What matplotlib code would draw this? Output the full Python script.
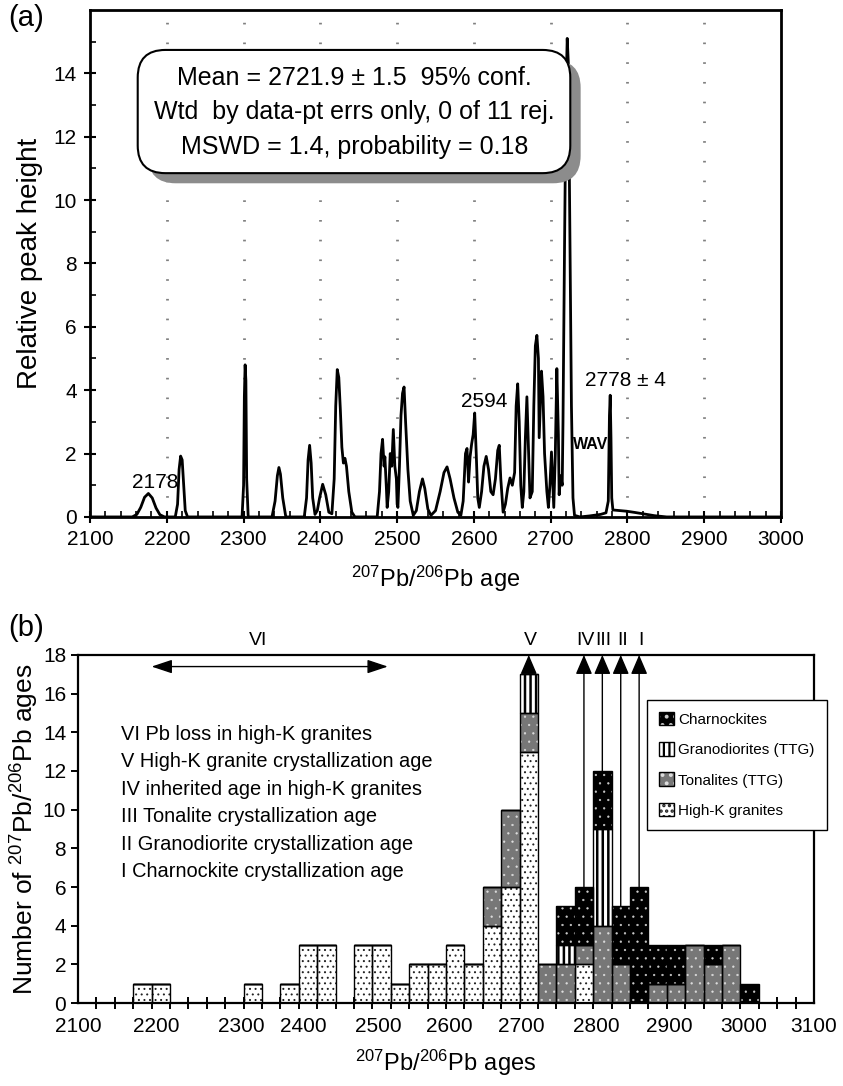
import matplotlib
matplotlib.use('Agg')
import matplotlib.pyplot as plt
from matplotlib.patches import FancyBboxPatch, Patch

plt.rcParams['font.family'] = ['Liberation Sans', 'DejaVu Sans']
plt.rcParams['hatch.linewidth'] = 1.6
NARROW = ['Liberation Sans Narrow', 'Liberation Sans', 'DejaVu Sans']

# ------------------------------------------------------------------ data (a)
# relative probability curve, traced vertex by vertex
age_a = [2100, 2155, 2161, 2166, 2171, 2176, 2181, 2186, 2191, 2197,
         2211, 2214, 2216, 2218, 2220, 2222, 2224, 2227,
         2298, 2300, 2301, 2302, 2303, 2304, 2306,
         2337, 2341, 2344, 2346, 2348, 2351, 2355,
         2379, 2382, 2384, 2386, 2388, 2390, 2393, 2396, 2399, 2403, 2407, 2411,
         2415, 2418, 2420, 2422, 2424, 2426, 2428, 2430, 2432, 2434, 2437, 2441, 2445,
         2474, 2477, 2479, 2481, 2483, 2484, 2486, 2487, 2489, 2491, 2493, 2495,
         2497, 2499, 2500, 2501, 2503, 2505, 2507, 2509, 2511, 2514, 2517, 2521,
         2525, 2529, 2533, 2536, 2540, 2544,
         2550, 2556, 2561, 2565, 2569, 2574, 2579, 2583,
         2586, 2589, 2591, 2593, 2595, 2597, 2599, 2601, 2603, 2605, 2607,
         2610, 2613, 2616, 2619, 2622, 2625,
         2628, 2631, 2633, 2635, 2638,
         2641, 2644, 2647, 2650, 2653, 2655, 2657, 2659, 2661, 2663,
         2665, 2667, 2669, 2671, 2673,
         2676, 2678, 2680, 2682, 2684, 2685, 2686, 2688, 2690, 2692, 2695, 2697,
         2699, 2701, 2703, 2704, 2706, 2708, 2710, 2711, 2713, 2715,
         2716, 2718, 2720, 2721.5, 2723, 2725, 2727, 2729, 2731,
         2738, 2750, 2765, 2772, 2775, 2776.5, 2777.5, 2778.5, 2779.5, 2781,
         2790, 2799, 2810, 2820, 2835, 2851, 3000]
height_a = [0, 0, 0.08, 0.3, 0.62, 0.74, 0.6, 0.28, 0.07, 0,
            0, 0.4, 1.5, 1.92, 1.8, 1.0, 0.2, 0,
            0, 1.0, 3.8, 4.8, 4.3, 1.2, 0,
            0, 0.5, 1.3, 1.56, 1.35, 0.6, 0,
            0, 0.6, 1.8, 2.26, 1.7, 0.6, 0.08, 0.2, 0.6, 1.03, 0.7, 0.15,
            0.1, 1.2, 3.5, 4.65, 4.4, 3.4, 2.2, 1.7, 1.85, 1.6, 0.8, 0.15, 0,
            0, 0.8, 2.0, 2.45, 1.6, 1.9, 0.9, 0.3, 0.8, 2.0, 1.6, 2.76,
            1.6, 1.2, 0.4, 0.3, 1.6, 3.2, 3.9, 4.1, 3.0, 1.5, 0.5, 0.05,
            0.2, 0.8, 1.2, 0.9, 0.25, 0.05,
            0.2, 0.8, 1.4, 1.58, 1.2, 0.6, 0.15, 0.05,
            0.5, 2.0, 2.16, 1.1, 1.9, 2.3, 2.6, 3.28, 2.0, 0.6, 0.3,
            0.8, 1.6, 1.91, 1.5, 0.8, 0.7,
            1.2, 2.1, 2.26, 1.2, 0.15,
            0.4, 0.9, 1.23, 1.0, 1.4, 3.5, 4.2, 3.0, 1.0, 0.3,
            0.8, 2.5, 3.79, 2.2, 0.6,
            0.8, 3.5, 5.4, 5.73, 5.0, 2.5, 3.2, 4.6, 3.8, 2.0, 0.8, 0.3,
            1.0, 2.05, 0.9, 0.3, 2.0, 4.68, 2.6, 0.7, 1.3, 1.0,
            3.0, 8.5, 13.5, 15.1, 14.3, 9.0, 3.5, 0.6, 0.05,
            0, 0.03, 0.08, 0.13, 0.5, 3.2, 3.84, 2.5, 0.6, 0.22,
            0.2, 0.18, 0.14, 0.1, 0.04, 0, 0]

box_lines = ['Mean = 2721.9 \u00b1 1.5  95% conf.',
             'Wtd  by data-pt errs only, 0 of 11 rej.',
             'MSWD = 1.4, probability = 0.18']
peak_labels = ['2178', '2594', '2778 \u00b1 4']
peak_label_x = [2185, 2614, 2797]
peak_label_y = [1.1, 3.63, 4.3]

# ------------------------------------------------------------------ data (b)
bin_start = [2175, 2200, 2325, 2375, 2400, 2425, 2475, 2500, 2525, 2550,
             2575, 2600, 2625, 2650, 2675, 2700, 2725, 2750, 2775, 2800,
             2825, 2850, 2875, 2900, 2925, 2950, 2975, 3000]
n_highk = [1, 1, 1, 1, 3, 3, 3, 3, 1, 2, 2, 3, 2, 4, 6, 13, 0, 0, 2, 0,
           0, 0, 0, 0, 0, 0, 0, 0]
n_tonal = [0, 0, 0, 0, 0, 0, 0, 0, 0, 0, 0, 0, 0, 2, 4, 2, 2, 2, 1, 4,
           2, 0, 1, 1, 3, 2, 3, 0]
n_grano = [0, 0, 0, 0, 0, 0, 0, 0, 0, 0, 0, 0, 0, 0, 0, 2, 0, 1, 0, 5,
           0, 0, 0, 0, 0, 0, 0, 0]
n_charn = [0, 0, 0, 0, 0, 0, 0, 0, 0, 0, 0, 0, 0, 0, 0, 0, 0, 2, 3, 3,
           3, 6, 2, 2, 0, 1, 0, 1]
bin_width = 25

tick_text_b = ['2100', '2200', '2300', '2400', '2500', '2600', '2700',
               '2800', '2900', '3000', '3100']
tick_pos_b = [2100, 2206, 2322, 2406, 2508, 2604, 2702, 2804, 2903, 3004, 3100]

arrow_names = ['V', 'IV', 'III', 'II', 'I']
arrow_x = [2712.5, 2787.5, 2812.5, 2837.5, 2862.5]
arrow_from = [17, 6, 12, 5, 6]

notes_b = ['VI Pb loss in high-K granites',
           'V High-K granite crystallization age',
           'IV inherited age in high-K granites',
           'III Tonalite crystallization age',
           'II Granodiorite crystallization age',
           'I Charnockite crystallization age']

# ----------------------------------------------------------------- figure
fig = plt.figure(figsize=(8.43, 10.86), dpi=100)

# ================================ panel (a)
ax1 = fig.add_axes([0.1068, 0.524, 0.8197, 0.4669])
for gx in range(2200, 3000, 100):
    ax1.axvline(gx, color='#808080', lw=2.0, ls=(0, (0.6, 6.5)), zorder=0)
ax1.plot(age_a, height_a, color='black', lw=2.0, zorder=3)
ax1.set_xlim(2100, 3000)
ax1.set_ylim(0, 16)
ax1.set_xticks(range(2100, 3001, 100))
ax1.set_xticks(range(2100, 3001, 20), minor=True)
ax1.set_yticks(range(0, 15, 2))
ax1.set_yticks(range(1, 16, 2), minor=True)
ax1.tick_params(which='major', direction='inout', length=9, width=1.5,
                labelsize=15, pad=5)
ax1.tick_params(which='minor', direction='in', length=4, width=1.2)
for lab in ax1.get_xticklabels() + ax1.get_yticklabels():
    lab.set_family(NARROW)
for sp in ax1.spines.values():
    sp.set_linewidth(2.0)

ax1.set_xlabel(r'$\mathregular{^{207}Pb/^{206}Pb\ age}$', fontsize=17,
               family=NARROW)
ax1.xaxis.set_label_coords(0.5, -0.092)
ax1.set_ylabel('Relative peak height', fontsize=20)
ax1.yaxis.set_label_coords(-0.068, 0.5)

# stats box with shadow
asp = 691 / 507
shadow = FancyBboxPatch((0.084, 0.658), 0.626, 0.243,
                        boxstyle='round,pad=0,rounding_size=0.04',
                        mutation_aspect=asp, transform=ax1.transAxes,
                        facecolor='#8c8c8c', edgecolor='none', zorder=4)
box = FancyBboxPatch((0.069, 0.678), 0.626, 0.243,
                     boxstyle='round,pad=0,rounding_size=0.04',
                     mutation_aspect=asp, transform=ax1.transAxes,
                     facecolor='white', edgecolor='black', lw=1.5, zorder=5)
ax1.add_patch(shadow)
ax1.add_patch(box)
for i, line in enumerate(box_lines):
    ax1.text(0.383, 0.866 - i * 0.068, line, transform=ax1.transAxes,
             ha='center', va='center', fontsize=18, zorder=6)

for txt, px, py in zip(peak_labels, peak_label_x, peak_label_y):
    ax1.text(px, py, txt, ha='center', va='center', fontsize=15, zorder=6)
ax1.text(2752, 2.3, 'WAV', ha='center', va='center', fontsize=11.5,
         fontweight='bold', zorder=6)

fig.text(0.010, 0.983, '(a)', fontsize=21, va='center')

# ================================ panel (b)
ax2 = fig.add_axes([0.0925, 0.0764, 0.873, 0.3205])

# name, counts, face, hatch colour, hatch, hatch line width
groups = [
    ('High-K granites', n_highk, 'white', '#222222', '...', 0.7),
    ('Tonalites (TTG)', n_tonal, '#777777', '#dddddd', '..', 0.4),
    ('Granodiorites (TTG)', n_grano, 'white', 'black', '|||', 1.8),
    ('Charnockites', n_charn, 'black', '#cccccc', '..', 0.4),
]
bottom = [0] * len(bin_start)
handles = []
for name, counts, fc, hc, hatch, hlw in groups:
    with plt.rc_context({'hatch.linewidth': hlw}):
        ax2.bar(bin_start, counts, width=bin_width, bottom=bottom,
                align='edge', color=fc, edgecolor=hc, hatch=hatch, lw=0,
                zorder=2)
        handles.append((Patch(facecolor=fc, edgecolor=hc, hatch=hatch, lw=0),
                        Patch(fill=False, edgecolor='black', lw=1.0)))
    ax2.bar(bin_start, counts, width=bin_width, bottom=bottom, align='edge',
            fill=False, edgecolor='black', lw=1.0, zorder=3)
    bottom = [b + c for b, c in zip(bottom, counts)]

ax2.set_xlim(2100, 3100)
ax2.set_ylim(0, 18)
ax2.set_yticks(range(0, 19, 2))
ax2.set_xticks(tick_pos_b)
ax2.set_xticklabels(tick_text_b)
ax2.set_xticks(range(2100, 3101, bin_width), minor=True)
ax2.tick_params(axis='x', which='major', length=0, labelsize=15, pad=10)
ax2.tick_params(axis='x', which='minor', direction='inout', length=8,
                width=1.4)
ax2.tick_params(axis='y', direction='out', length=5, width=1.4,
                labelsize=15)
for lab in ax2.get_xticklabels() + ax2.get_yticklabels():
    lab.set_family(NARROW)
for sp in ax2.spines.values():
    sp.set_linewidth(1.6)

ax2.set_xlabel(r'$\mathregular{^{207}Pb/^{206}Pb\ ages}$', fontsize=17,
               family=NARROW)
ax2.xaxis.set_label_coords(0.5, -0.13)
ax2.set_ylabel(r'Number of $\mathregular{^{207}Pb/^{206}Pb}$ ages',
               fontsize=19)
ax2.yaxis.set_label_coords(-0.05, 0.50)

# crystallisation arrows
for name, xa, y0 in zip(arrow_names, arrow_x, arrow_from):
    ax2.annotate('', xy=(xa, 18), xytext=(xa, y0),
                 arrowprops=dict(arrowstyle='-|>,head_length=0.7,head_width=0.3',
                                 color='black', lw=1.0, mutation_scale=17,
                                 shrinkA=0, shrinkB=0),
                 annotation_clip=False, zorder=4)
    ax2.text(xa + 2, 18.75, name, ha='center', va='center', fontsize=14,
             clip_on=False)

ax2.annotate('', xy=(2200, 17.4), xytext=(2521, 17.4),
             arrowprops=dict(arrowstyle='<|-|>,head_length=0.9,head_width=0.3',
                             color='black', lw=1.0, mutation_scale=14,
                             shrinkA=0, shrinkB=0))
ax2.text(2345, 18.75, 'VI', ha='center', va='center', fontsize=14,
         clip_on=False)

for i, line in enumerate(notes_b):
    ax2.text(2158, 13.9 - i * 1.42, line, ha='left', va='center',
             fontsize=14.4)

leg = ax2.legend(handles[::-1], [g[0] for g in groups][::-1],
                 loc='upper left', bbox_to_anchor=(0.773, 0.872),
                 fontsize=11, frameon=True, fancybox=False,
                 edgecolor='black', framealpha=1, handlelength=1.0,
                 handleheight=1.0, handletextpad=0.25, labelspacing=1.0,
                 borderpad=0.8, borderaxespad=0)
leg.get_frame().set_linewidth(1.0)

fig.text(0.010, 0.422, '(b)', fontsize=21, va='center')

fig.savefig('out.png', dpi=100)
